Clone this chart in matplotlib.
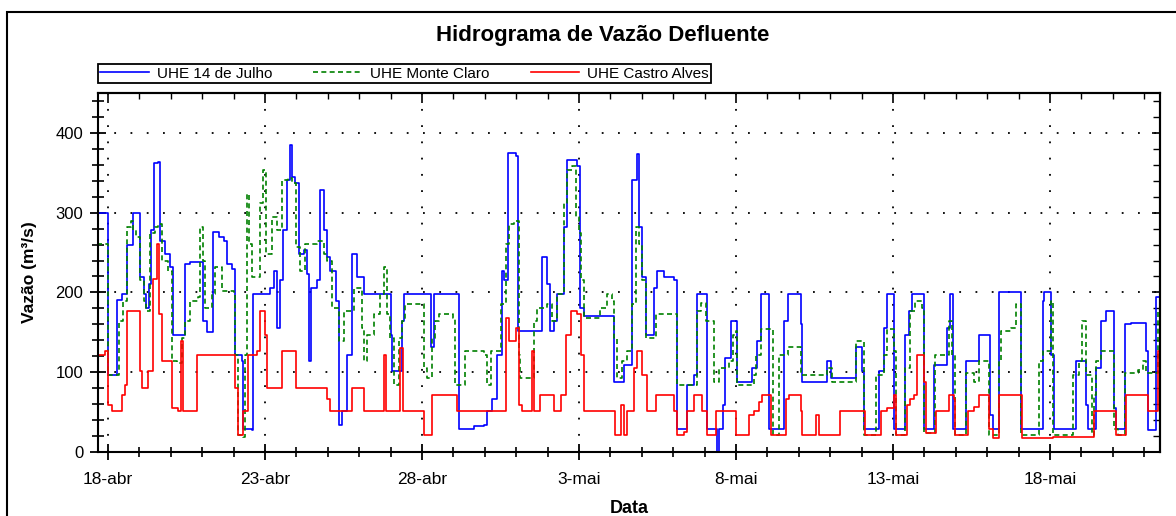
import numpy as np
import matplotlib.pyplot as plt
from matplotlib.patches import Rectangle
from matplotlib.ticker import MultipleLocator

plt.rcParams['font.family'] = ['Liberation Sans', 'DejaVu Sans']

# dias contados a partir de 18-abr 00:00
julho_dias = [-0.34, 0.01, 0.30, 0.45, 0.60, 0.81, 1.02, 1.13, 1.22, 1.31, 1.36, 1.45, 1.60, 1.66,
              1.81, 1.98, 2.08, 2.45, 2.60, 3.03, 3.15, 3.34, 3.52, 3.68, 3.78, 3.95, 4.03, 4.26,
              4.31, 4.58, 4.61, 5.16, 5.27, 5.37, 5.47, 5.58, 5.69, 5.80, 5.85, 5.96, 6.07, 6.23,
              6.34, 6.39, 6.45, 6.65, 6.74, 6.87, 6.97, 7.08, 7.27, 7.34, 7.45, 7.60, 7.77, 7.93,
              8.14, 9.00, 9.04, 9.36, 9.41, 10.27, 10.37, 11.17, 11.64, 11.96, 12.07, 12.23, 12.39,
              12.55, 12.61, 12.73, 12.98, 13.05, 13.82, 13.98, 14.09, 14.20, 14.30, 14.52, 14.62,
              14.94, 15.03, 15.15, 16.11, 16.43, 16.70, 16.85, 16.90, 17.01, 17.12, 17.39, 17.49,
              17.70, 18.02, 18.12, 18.44, 18.66, 18.77, 19.08, 19.40, 19.47, 19.57, 19.64, 19.85,
              20.04, 20.52, 20.68, 20.79, 21.05, 21.53, 21.64, 22.06, 22.11, 22.91, 23.02, 23.81,
              24.00, 24.07, 24.56, 24.71, 24.82, 25.02, 25.39, 25.50, 25.60, 25.97, 26.29, 26.71,
              26.82, 26.92, 27.32, 27.75, 28.10, 28.17, 28.38, 29.07, 29.76, 29.81, 30.03, 30.14,
              30.83, 31.15, 31.20, 31.47, 31.63, 31.79, 32.05, 32.10, 32.37, 32.58, 33.06, 33.11,
              33.38, 33.49, 33.60]
julho_vazao = [300, 97, 190, 198, 260, 300, 219, 198, 181, 210, 278, 362, 364, 265,
               248, 232, 147, 236, 238, 164, 150, 276, 269, 265, 236, 229, 122, 114,
               29, 27, 198, 206, 227, 156, 215, 278, 341, 385, 345, 337, 248, 253,
               223, 114, 206, 215, 328, 278, 244, 227, 189, 34, 51, 122, 248, 219,
               198, 147, 101, 164, 198, 131, 198, 29, 32, 34, 51, 67, 122,
               227, 215, 375, 371, 152, 244, 210, 152, 164, 198, 282, 366,
               358, 181, 171, 88, 109, 341, 373, 282, 219, 147, 206, 227,
               219, 215, 29, 84, 97, 198, 29, 0, 29, 59, 118, 164,
               88, 105, 139, 198, 29, 164, 198, 160, 88, 114, 93, 131,
               101, 29, 101, 156, 198, 29, 147, 177, 198, 29, 109, 156,
               198, 29, 114, 147, 46, 29, 200, 29, 189, 200, 122, 29,
               114, 59, 29, 105, 164, 177, 55, 29, 160, 162, 126, 27,
               194, 200, 200]

monte_dias = [-0.34, 0.01, 0.36, 0.49, 0.59, 0.74, 0.80, 0.90, 1.02, 1.13, 1.22, 1.34, 1.50, 1.60,
              1.71, 1.92, 2.03, 2.19, 2.35, 2.45, 2.60, 2.87, 2.93, 3.03, 3.09, 3.30, 3.41, 3.62,
              4.00, 4.05, 4.15, 4.31, 4.36, 4.42, 4.50, 4.58, 4.85, 4.95, 5.03, 5.22, 5.37, 5.53,
              5.74, 5.85, 6.00, 6.11, 6.27, 6.65, 6.87, 6.97, 7.12, 7.34, 7.50, 7.82, 8.09, 8.14,
              8.24, 8.46, 8.67, 8.78, 8.88, 8.99, 9.10, 9.26, 9.36, 9.47, 10.05, 10.16, 10.32,
              10.42, 10.53, 11.00, 11.06, 11.38, 11.96, 12.07, 12.18, 12.50, 12.66, 12.76, 12.92,
              13.08, 13.13, 13.56, 13.66, 13.98, 14.14, 14.30, 14.52, 14.62, 14.78, 14.89, 14.99,
              15.05, 15.15, 15.68, 15.89, 16.05, 16.11, 16.22, 16.38, 16.54, 16.70, 16.80, 16.90,
              17.01, 17.12, 17.44, 18.12, 18.77, 18.88, 19.03, 19.30, 19.46, 19.78, 19.89, 19.99,
              20.04, 20.57, 20.63, 20.79, 21.16, 21.37, 21.64, 22.06, 22.91, 23.07, 23.81, 24.07,
              24.45, 24.71, 24.82, 25.03, 25.08, 25.39, 25.55, 25.71, 25.92, 25.97, 26.34, 26.77,
              26.88, 26.98, 27.32, 27.59, 27.75, 28.07, 28.36, 28.45, 28.77, 28.93, 29.07, 29.65,
              29.76, 30.03, 30.08, 30.72, 30.93, 31.03, 31.14, 31.35, 31.41, 31.47, 31.63, 32.05,
              32.16, 32.37, 32.80, 32.96, 33.06, 33.43, 33.49, 33.60]
monte_vazao = [261, 97, 164, 189, 282, 290, 278, 270, 215, 189, 177, 274, 282, 286,
               240, 227, 114, 112, 143, 164, 189, 194, 282, 240, 181, 198, 232, 202,
               198, 122, 21, 19, 122, 324, 261, 219, 312, 354, 248, 295, 278, 341,
               343, 337, 257, 227, 261, 265, 248, 240, 181, 139, 177, 206, 156, 114,
               147, 173, 198, 232, 173, 143, 84, 143, 164, 185, 105, 93, 143,
               164, 173, 168, 84, 126, 122, 84, 126, 185, 261, 286, 290,
               122, 93, 164, 181, 185, 164, 198, 312, 354, 358, 295, 274,
               215, 168, 181, 198, 189, 143, 93, 114, 126, 185, 282, 261,
               215, 143, 173, 84, 177, 187, 164, 88, 105, 114, 147, 152,
               84, 97, 122, 154, 21, 122, 131, 97, 105, 88, 139, 21,
               97, 122, 154, 126, 21, 105, 177, 189, 181, 24, 122, 164,
               122, 21, 99, 88, 114, 21, 114, 152, 156, 185, 21, 114,
               126, 189, 21, 97, 114, 164, 97, 21, 72, 114, 126, 29,
               21, 99, 103, 114, 99, 177, 185, 185]

castro_dias = [-0.34, -0.10, 0.01, 0.12, 0.43, 0.54, 0.59, 1.02, 1.07, 1.28, 1.43, 1.55, 1.62, 1.71,
               2.03, 2.24, 2.33, 2.40, 2.83, 4.05, 4.15, 4.31, 4.47, 4.74, 4.85, 5.00, 5.06, 5.53,
               6.00, 6.97, 7.08, 7.77, 8.14, 8.78, 8.85, 9.31, 9.38, 10.05, 10.32, 11.12, 12.66,
               12.76, 12.98, 13.08, 13.18, 13.50, 13.58, 13.77, 14.20, 14.41, 14.57, 14.73, 14.94,
               15.05, 15.15, 16.16, 16.32, 16.43, 16.54, 16.75, 16.85, 17.01, 17.17, 17.44, 18.02,
               18.12, 18.34, 18.44, 18.66, 18.93, 19.08, 19.36, 19.99, 20.42, 20.57, 20.72, 20.83,
               21.10, 21.59, 21.70, 22.06, 22.11, 22.54, 22.64, 23.32, 24.12, 24.61, 24.82, 25.03,
               25.08, 25.45, 25.55, 25.66, 25.77, 25.98, 26.05, 26.36, 26.77, 26.93, 26.98, 27.37,
               27.59, 27.75, 28.07, 28.17, 28.38, 29.12, 30.08, 31.41, 32.10, 32.42, 33.11, 33.43,
               33.49, 33.60]
castro_vazao = [122, 126, 59, 51, 72, 84, 177, 101, 80, 101, 217, 261, 173, 114,
                55, 51, 139, 51, 122, 80, 21, 51, 122, 126, 177, 147, 80, 126,
                80, 67, 51, 80, 51, 122, 51, 130, 51, 21, 72, 51, 168,
                139, 156, 59, 51, 126, 51, 72, 51, 72, 147, 177, 173,
                122, 51, 21, 59, 21, 51, 105, 126, 97, 51, 72, 51,
                21, 25, 51, 72, 51, 21, 51, 21, 46, 51, 63, 72,
                21, 67, 72, 51, 21, 46, 21, 51, 21, 51, 55, 72,
                21, 59, 67, 72, 122, 88, 24, 51, 72, 67, 21, 51,
                57, 72, 29, 17, 72, 17, 19, 51, 21, 72, 51, 126,
                101, 101]

tick_dias = [0, 5, 10, 15, 20, 25, 30]
tick_rotulos = ['18-abr', '23-abr', '28-abr', '3-mai', '8-mai', '13-mai', '18-mai']

fig = plt.figure(figsize=(11.76, 5.16), dpi=100)
ax = fig.add_axes([98 / 1176, 64 / 516, 1062 / 1176, 359 / 516])

ax.plot(julho_dias, julho_vazao, drawstyle='steps-post', color='#0000ff', lw=1.2,
        label='UHE 14 de Julho')
ax.plot(monte_dias, monte_vazao, drawstyle='steps-post', color='#008000', lw=1.2,
        linestyle=(0, (3, 2)), label='UHE Monte Claro')
ax.plot(castro_dias, castro_vazao, drawstyle='steps-post', color='#ff0000', lw=1.2,
        label='UHE Castro Alves')

ax.set_xlim(-0.32, 33.5)
ax.set_ylim(0, 450)
ax.set_xticks(tick_dias)
ax.set_xticklabels(tick_rotulos)
ax.xaxis.set_minor_locator(MultipleLocator(1))
ax.set_yticks([0, 100, 200, 300, 400])
ax.yaxis.set_minor_locator(MultipleLocator(20))
ax.tick_params(axis='both', which='major', direction='inout', length=11, width=1.3, pad=5)
ax.tick_params(axis='x', which='major', labelsize=12.5, pad=9)
ax.tick_params(axis='y', which='major', labelsize=12)
ax.tick_params(axis='x', which='minor', direction='inout', length=7, width=1.2)
ax.tick_params(axis='y', which='minor', direction='inout', length=8, width=1.2)

# ticks de dentro no topo e na direita
top = ax.secondary_xaxis('top')
top.set_xticks(tick_dias)
top.xaxis.set_minor_locator(MultipleLocator(1))
top.tick_params(which='major', direction='in', length=7, width=1.2, labeltop=False)
top.tick_params(which='minor', direction='in', length=4, width=1.0)
right = ax.secondary_yaxis('right')
right.set_yticks([0, 100, 200, 300, 400])
right.yaxis.set_minor_locator(MultipleLocator(20))
right.tick_params(which='major', direction='in', length=6, width=1.2, labelright=False)
right.tick_params(which='minor', direction='in', length=5, width=1.0)

for s in list(ax.spines.values()) + [top.spines['top'], right.spines['right']]:
    s.set_linewidth(1.5)

ax.grid(True, which='major', color='black', linestyle=(0, (1, 8)), lw=1.3)

ax.set_xlabel('Data', fontsize=13, fontweight='bold', labelpad=9)
ax.set_ylabel('Vazão (m³/s)', fontsize=12.5, fontweight='bold', labelpad=13)
fig.text(603 / 1176, 1 - 35 / 516, 'Hidrograma de Vazão Defluente', fontsize=16,
         fontweight='bold', ha='center', va='center')

leg = ax.legend(loc='lower left', bbox_to_anchor=(98 / 1176, 1 - 83 / 516),
                bbox_transform=fig.transFigure, ncol=3, fontsize=11, frameon=True,
                fancybox=False, edgecolor='black', framealpha=1, borderaxespad=0,
                handlelength=3.2, handletextpad=0.5, columnspacing=2.7, borderpad=0.15)
leg.get_frame().set_linewidth(1.3)

fig.patches.append(Rectangle((7 / 1176, -0.1), 2, 1.1 - 12 / 516, transform=fig.transFigure,
                             fill=False, edgecolor='black', lw=1.5))

fig.savefig('out.png', dpi=100)
